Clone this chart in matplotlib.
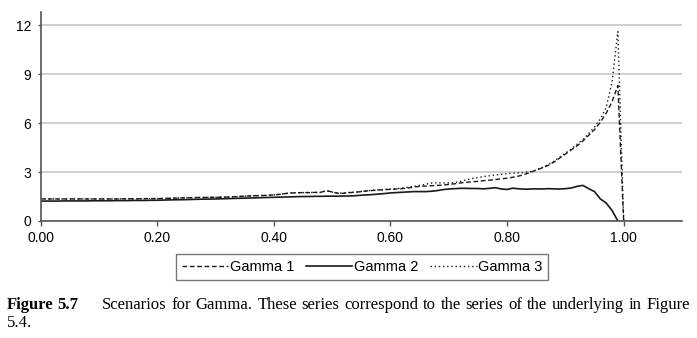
import numpy as np
import matplotlib.pyplot as plt

# moneyness grid, 0.00 .. 1.00
x = np.round(np.arange(0, 1.001, 0.01), 2)

gamma1 = [1.35, 1.35, 1.35, 1.35, 1.35, 1.35, 1.35, 1.35, 1.35, 1.35,
          1.35, 1.35, 1.35, 1.35, 1.36, 1.36, 1.36, 1.36, 1.37, 1.37,
          1.37, 1.38, 1.39, 1.40, 1.41, 1.42, 1.43, 1.44, 1.44, 1.45,
          1.45, 1.46, 1.47, 1.48, 1.50, 1.52, 1.54, 1.55, 1.56, 1.57,
          1.60, 1.63, 1.68, 1.72, 1.73, 1.74, 1.74, 1.75, 1.75, 1.86,
          1.78, 1.70, 1.70, 1.74, 1.76, 1.80, 1.84, 1.87, 1.90, 1.92,
          1.94, 1.96, 1.98, 2.02, 2.08, 2.12, 2.14, 2.16, 2.18, 2.20,
          2.24, 2.28, 2.33, 2.37, 2.40, 2.43, 2.47, 2.50, 2.54, 2.58,
          2.62, 2.68, 2.75, 2.85, 2.98, 3.12, 3.25, 3.40, 3.60, 3.85,
          4.10, 4.35, 4.60, 4.90, 5.25, 5.60, 6.05, 6.60, 7.30, 8.30,
          0.00]

gamma2 = [1.22, 1.22, 1.22, 1.22, 1.23, 1.23, 1.23, 1.23, 1.23, 1.24,
          1.24, 1.24, 1.24, 1.25, 1.25, 1.25, 1.26, 1.26, 1.26, 1.27,
          1.27, 1.28, 1.29, 1.30, 1.30, 1.31, 1.32, 1.33, 1.34, 1.34,
          1.35, 1.36, 1.37, 1.38, 1.39, 1.40, 1.41, 1.42, 1.43, 1.44,
          1.45, 1.46, 1.47, 1.48, 1.49, 1.50, 1.50, 1.51, 1.51, 1.52,
          1.52, 1.52, 1.53, 1.53, 1.55, 1.58, 1.60, 1.62, 1.65, 1.68,
          1.72, 1.74, 1.76, 1.78, 1.80, 1.80, 1.80, 1.82, 1.86, 1.92,
          1.96, 1.98, 2.00, 2.00, 1.99, 1.99, 1.97, 2.00, 2.04, 1.96,
          1.93, 2.01, 1.97, 1.95, 1.96, 1.97, 1.96, 1.98, 1.97, 1.96,
          1.98, 2.02, 2.12, 2.18, 1.98, 1.80, 1.35, 1.10, 0.65, 0.00]

gamma3 = [1.35, 1.35, 1.35, 1.35, 1.35, 1.35, 1.35, 1.35, 1.35, 1.35,
          1.35, 1.35, 1.35, 1.35, 1.36, 1.36, 1.36, 1.36, 1.37, 1.37,
          1.37, 1.38, 1.39, 1.40, 1.41, 1.42, 1.43, 1.44, 1.44, 1.45,
          1.45, 1.46, 1.47, 1.48, 1.50, 1.52, 1.54, 1.55, 1.56, 1.57,
          1.60, 1.63, 1.68, 1.72, 1.73, 1.74, 1.74, 1.75, 1.75, 1.84,
          1.78, 1.71, 1.71, 1.75, 1.77, 1.81, 1.85, 1.88, 1.91, 1.93,
          1.95, 1.98, 2.02, 2.07, 2.12, 2.18, 2.25, 2.32, 2.34, 2.33,
          2.33, 2.35, 2.42, 2.52, 2.60, 2.66, 2.72, 2.77, 2.82, 2.86,
          2.90, 2.93, 2.95, 2.97, 3.02, 3.12, 3.27, 3.44, 3.65, 3.90,
          4.15, 4.40, 4.70, 5.00, 5.35, 5.75, 6.25, 6.95, 8.50, 11.60,
          0.00]

labels = ['Gamma 1', 'Gamma 2', 'Gamma 3']
xticks = [0.0, 0.2, 0.4, 0.6, 0.8, 1.0]
yticks = [0, 3, 6, 9, 12]

caption_head = ['Figure', '5.7']
caption_line1 = 'Scenarios for Gamma. These series correspond to the series of the underlying in Figure'
caption_line2 = '5.4.'

plt.rcParams['font.family'] = ['Liberation Sans', 'DejaVu Sans']

W, H = 697, 338
fig = plt.figure(figsize=(W / 100, H / 100), dpi=100)
ax = fig.add_axes([40.5 / W, 117 / H, 641.5 / W, 209 / H])

ink = '#1a1a1a'
ax.plot(x, gamma1, color=ink, lw=1.0, linestyle=(0, (3.4, 1.9)), label=labels[0])
ax.plot(x[:len(gamma2)], gamma2, color=ink, lw=1.2, linestyle='-', label=labels[1])
ax.plot(x, gamma3, color=ink, lw=1.0, linestyle=(0, (1, 2.0)), label=labels[2])

ax.set_xlim(0, 1.1)
ax.set_ylim(0, 12.8)
ax.set_xticks(xticks)
ax.set_xticklabels(['%.2f' % t for t in xticks])
ax.set_yticks(yticks)
ax.yaxis.grid(True, color='#d0d0d0', lw=1.4)
ax.set_axisbelow(True)

for s in ['top', 'right']:
    ax.spines[s].set_visible(False)
for s in ['left', 'bottom']:
    ax.spines[s].set_color('#555555')
    ax.spines[s].set_linewidth(1.2)
ax.tick_params(axis='x', direction='out', length=3.5, width=1, color='#555555',
               labelsize=10, pad=3.5, labelcolor='black')
ax.tick_params(axis='y', direction='out', length=2.5, width=1, color='#555555',
               labelsize=10, pad=4, labelcolor='black')

leg = fig.legend(loc='center', bbox_to_anchor=(362 / W, 71 / H), ncol=3,
                 fontsize=10.5, frameon=True, fancybox=False, handlelength=3.2,
                 handletextpad=0.1, columnspacing=0.8, borderpad=0.4)
leg.get_frame().set_edgecolor('#555555')
leg.get_frame().set_linewidth(1.0)

# caption, first line justified between x=102 and x=690 px
serif = 'Liberation Serif'
cap_size = 12
y1 = 33 / H
fig.text(7 / W, y1, caption_head[0], family=serif, fontweight='bold',
         fontsize=cap_size, va='center')
fig.text(78 / W, y1, caption_head[1], family=serif, fontweight='bold',
         fontsize=cap_size, va='center', ha='right')

fig.canvas.draw()
renderer = fig.canvas.get_renderer()
words = caption_line1.split()
texts = [fig.text(0, y1, w, family=serif, fontsize=cap_size, va='center') for w in words]
widths = [t.get_window_extent(renderer).width for t in texts]
left, right = 102, 690
gap = (right - left - sum(widths)) / (len(words) - 1)
pos = left
for t, w in zip(texts, widths):
    t.set_x(pos / W)
    pos += w + gap

fig.text(7 / W, 15 / H, caption_line2, family=serif, fontsize=cap_size, va='center')

fig.savefig('out.png', dpi=100)
